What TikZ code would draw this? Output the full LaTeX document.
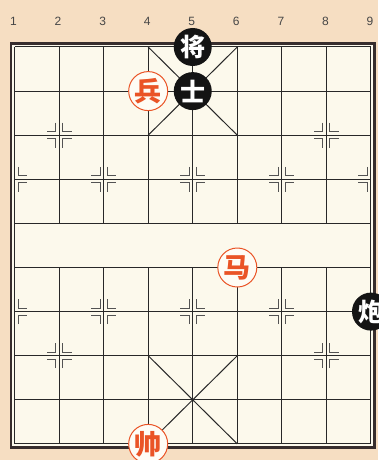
\documentclass[tikz,border=0pt]{standalone}
\usepackage{fontspec}
\setmainfont{Liberation Sans}
\newfontfamily\cjk{Noto Sans CJK SC}
\definecolor{bgtan}{RGB}{246,222,194}
\definecolor{boardc}{RGB}{252,249,236}
\definecolor{gridc}{RGB}{40,40,40}
\definecolor{framec}{RGB}{55,45,45}
\definecolor{redc}{RGB}{234,84,38}
\definecolor{labc}{RGB}{70,70,70}
\begin{document}
\begin{tikzpicture}[x=1pt,y=-1pt,
  gridline/.style={draw=gridc,line width=1pt},
  marksty/.style={draw=gridc!80,line width=1pt},
  blackpiece/.style={circle,fill=black!92,text=white,minimum size=38pt,inner sep=0pt,font=\cjk\bfseries\fontsize{25}{25}\selectfont},
  redpiece/.style={circle,fill=white!50!boardc,draw=redc,line width=1pt,text=redc,minimum size=39pt,inner sep=0pt,font=\cjk\bfseries\fontsize{27}{27}\selectfont},
  filelabel/.style={font=\fontsize{12}{12}\selectfont,text=labc},
  quadmark/.pic={
    \draw[marksty] (3.5pt,12.5pt) -- (3.5pt,3.5pt) -- (12.5pt,3.5pt);
    \draw[marksty] (3.5pt,-12.5pt) -- (3.5pt,-3.5pt) -- (12.5pt,-3.5pt);
  },
  fullmark/.pic={
    \pic {quadmark};
    \pic[xscale=-1] {quadmark};
  },
  rightmark/.pic={\pic {quadmark};},
  leftmark/.pic={\pic[xscale=-1] {quadmark};}
]
\fill[bgtan] (0,0) rectangle (378,460);
\useasboundingbox (0,0) rectangle (378,460);
\begin{scope}[xshift=14.5pt,yshift=-47pt,x=44.56pt,y=-44.1pt]
  % board
  \fill[boardc] ([shift={(-3.4pt,3.4pt)}]0,0) rectangle ([shift={(3.4pt,-3.4pt)}]8,9);
  \draw[framec,line width=2.4pt] ([shift={(-3.4pt,3.4pt)}]0,0) rectangle ([shift={(3.4pt,-3.4pt)}]8,9);
  \foreach \r in {0,...,9} \draw[gridline] (0,\r) -- (8,\r);
  \foreach \f in {0,8} \draw[gridline] (\f,0) -- (\f,9);
  \foreach \f in {1,...,7} {\draw[gridline] (\f,0) -- (\f,4); \draw[gridline] (\f,5) -- (\f,9);}
  % palaces
  \draw[gridline] (3,0) -- (5,2); \draw[gridline] (5,0) -- (3,2);
  \draw[gridline] (3,7) -- (5,9); \draw[gridline] (5,7) -- (3,9);
  % position marks
  \foreach \p in {(1,2),(7,2),(2,3),(4,3),(6,3),(2,6),(4,6),(6,6),(1,7),(7,7)} \pic at \p {fullmark};
  \pic at (0,3) {rightmark}; \pic at (8,3) {leftmark};
  \pic at (0,6) {rightmark}; \pic at (8,6) {leftmark};
  % file numbers
  \foreach \f [count=\n] in {0,...,8} \node[filelabel] (lab\n) at ([xshift=-1pt,yshift=26pt]\f,0) {\n};
  % pieces
  \node[blackpiece] (jiang) at (4,0) {将};
  \node[blackpiece] (shi) at (4,1) {士};
  \node[redpiece] (bing) at (3,1) {兵};
  \node[redpiece] (ma) at (5,5) {马};
  \node[blackpiece] (pao) at (8,6) {炮};
  \node[redpiece] (shuai) at (3,9) {帅};
\end{scope}
\end{tikzpicture}
\end{document}
